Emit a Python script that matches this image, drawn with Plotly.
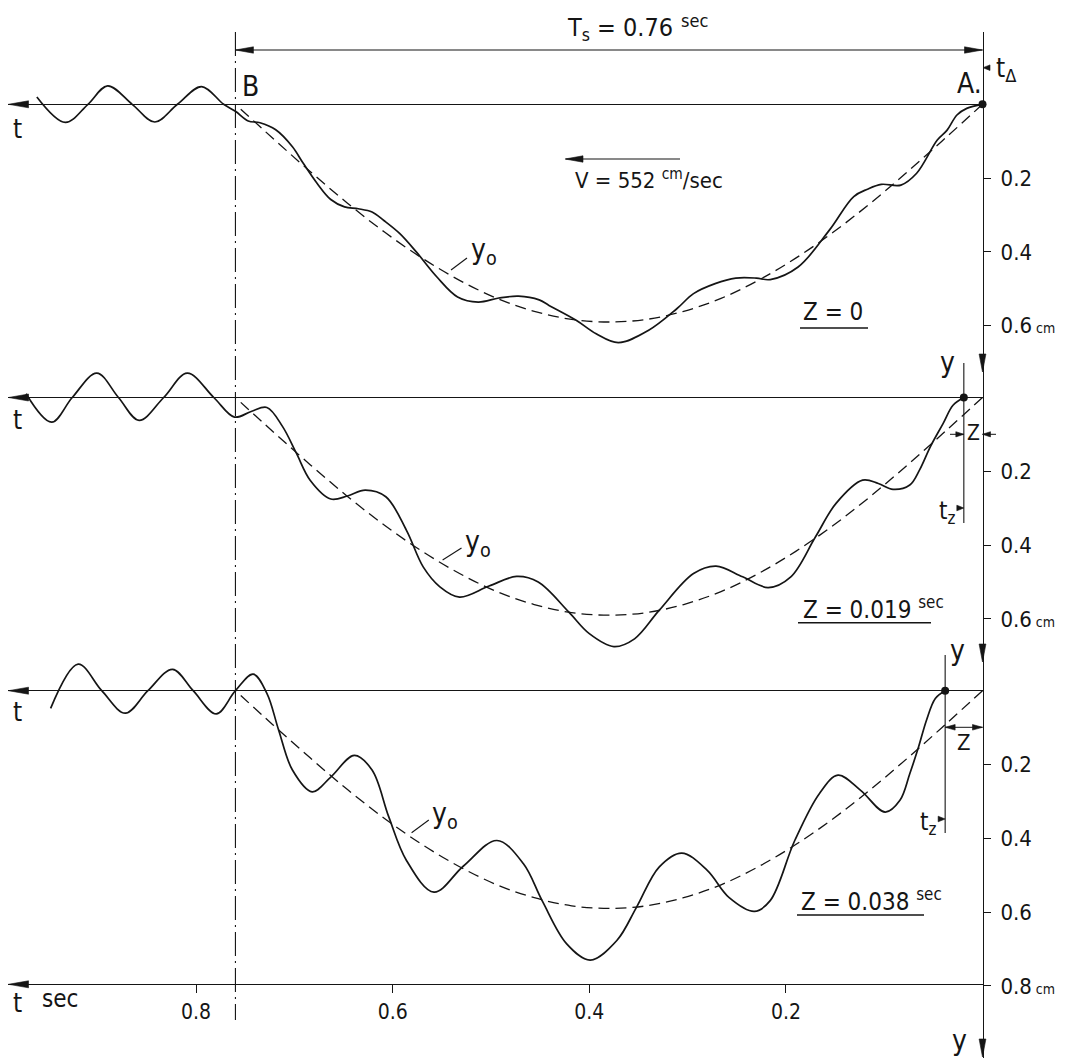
import plotly.graph_objects as go

# ---------------- data ----------------
TS = 0.76                       # sec, time from A to B
V_CM_S = 552                    # cm/sec
Z_VALUES = [0.0, 0.019, 0.038]  # sec
Z_TEXT = ["Z = 0", "Z = 0.019 <sup>sec</sup>", "Z = 0.038 <sup>sec</sup>"]

# static deflection line y0 (cm) vs t (sec)
Y0_T = [0.000, 0.038, 0.076, 0.114, 0.152, 0.190, 0.228, 0.266, 0.304, 0.342, 0.380,
        0.418, 0.456, 0.494, 0.532, 0.570, 0.608, 0.646, 0.684, 0.722, 0.760]
Y0_Y = [0.000, 0.092, 0.182, 0.268, 0.347, 0.417, 0.477, 0.526, 0.561, 0.583, 0.590,
        0.583, 0.561, 0.526, 0.477, 0.417, 0.347, 0.268, 0.182, 0.092, 0.000]

# dynamic deflection y (cm) vs t (sec), Z = 0
SOLID_Z0 = [(0.962, -0.020), (0.933, 0.049), (0.910, 0.000), (0.890, -0.050), (0.865, 0.000),
            (0.842, 0.048), (0.819, 0.000), (0.7945, -0.048), (0.772, 0.000), (0.760, 0.019),
            (0.747, 0.045), (0.735, 0.050), (0.719, 0.069), (0.702, 0.115), (0.691, 0.160),
            (0.677, 0.214), (0.663, 0.258), (0.649, 0.278), (0.635, 0.283), (0.621, 0.292),
            (0.609, 0.315), (0.593, 0.350), (0.576, 0.400), (0.555, 0.468), (0.534, 0.522),
            (0.513, 0.536), (0.492, 0.525), (0.472, 0.520), (0.451, 0.530), (0.441, 0.545),
            (0.413, 0.586), (0.393, 0.622), (0.3705, 0.646), (0.340, 0.613), (0.311, 0.554),
            (0.294, 0.513), (0.272, 0.486), (0.251, 0.471), (0.230, 0.471), (0.216, 0.475),
            (0.1876, 0.441), (0.1558, 0.341), (0.131, 0.250), (0.117, 0.230), (0.103, 0.217),
            (0.083, 0.219), (0.067, 0.187), (0.046, 0.097), (0.036, 0.070), (0.026, 0.029),
            (0.016, 0.011), (0.000, 0.000)]
# Z = 0.019 sec
SOLID_Z19 = [(0.973, -0.010), (0.947, 0.067), (0.926, 0.000), (0.901, -0.066), (0.879, 0.000),
             (0.858, 0.062), (0.833, 0.000), (0.809, -0.066), (0.782, 0.000), (0.761, 0.053),
             (0.744, 0.038), (0.728, 0.027), (0.712, 0.079), (0.698, 0.151), (0.684, 0.224),
             (0.663, 0.275), (0.646, 0.267), (0.628, 0.251), (0.607, 0.269), (0.586, 0.360),
             (0.569, 0.459), (0.552, 0.513), (0.532, 0.541), (0.502, 0.511), (0.474, 0.485),
             (0.452, 0.500), (0.421, 0.581), (0.400, 0.640), (0.375, 0.675), (0.354, 0.654),
             (0.329, 0.577), (0.294, 0.477), (0.271, 0.457), (0.244, 0.486), (0.218, 0.515),
             (0.195, 0.486), (0.170, 0.378), (0.149, 0.287), (0.122, 0.224), (0.106, 0.233),
             (0.091, 0.249), (0.074, 0.237), (0.064, 0.196), (0.053, 0.133), (0.040, 0.070),
             (0.030, 0.021), (0.019, 0.000)]
# Z = 0.038 sec
SOLID_Z38 = [(0.948, 0.048), (0.920, -0.072), (0.896, 0.000), (0.872, 0.061), (0.849, 0.000),
             (0.824, -0.058), (0.803, 0.000), (0.7795, 0.063), (0.760, 0.000), (0.742, -0.045),
             (0.728, 0.007), (0.716, 0.107), (0.702, 0.215), (0.682, 0.274), (0.663, 0.234),
             (0.639, 0.175), (0.621, 0.215), (0.604, 0.342), (0.586, 0.460), (0.558, 0.546),
             (0.528, 0.475), (0.494, 0.406), (0.467, 0.469), (0.448, 0.569), (0.423, 0.686),
             (0.399, 0.730), (0.372, 0.677), (0.352, 0.587), (0.329, 0.478), (0.306, 0.440),
             (0.280, 0.487), (0.258, 0.560), (0.232, 0.598), (0.216, 0.569), (0.191, 0.406),
             (0.166, 0.279), (0.147, 0.229), (0.124, 0.270), (0.099, 0.329), (0.084, 0.297),
             (0.074, 0.225), (0.065, 0.152), (0.057, 0.080), (0.048, 0.021), (0.038, 0.000)]
SOLIDS = [SOLID_Z0, SOLID_Z19, SOLID_Z38]

X_TICKS = [0.2, 0.4, 0.6, 0.8]
X_TICKTEXT = ["0.2", "0.4", "0.6", "0.8"]
CM = "<span style='font-size:14px'> cm</span>"
Y_TICKS_UP = [0.2, 0.4, 0.6]
Y_TICKTEXT_UP = ["0.2", "0.4", "0.6" + CM]
Y_TICKS_LOW = [0.2, 0.4, 0.6, 0.8]
Y_TICKTEXT_LOW = ["0.2", "0.4", "0.6", "0.8" + CM]

# ---------------- geometry / style ----------------
INK = "#151515"
FONT = "Liberation Sans Narrow, DejaVu Sans Condensed, Roboto Condensed, Roboto, sans-serif"
PAGE_W, PAGE_H = 1065, 1061
OFF = 8                          # default body margin of the html page
W, H = PAGE_W - OFF, PAGE_H - OFF
ML, MR = 0, 82                   # plot area spans page x 8 .. 983
PLOT_W = W - ML - MR
T_LEFT, T_RIGHT = 0.99136, -0.0005
DOM_TOP, DOM_BOT = 32, 1058      # page pixels
CM_PX = 369.0
BASE_PX = [104.3, 397.5, 690.7]  # page pixels of y = 0 in each panel
AXIS_Y = 984.3


def X_t(t):
    return OFF + ML + (T_LEFT - t) / (T_LEFT - T_RIGHT) * PLOT_W


def px(X):
    return (X - OFF - ML) / PLOT_W


def py(Y):
    return 1 - (Y - OFF) / H


shapes = []
annotations = []


def seg(X0, Y0, X1, Y1, w=1.2, dash=None):
    shapes.append(dict(type="line", xref="paper", yref="paper", x0=px(X0), y0=py(Y0),
                       x1=px(X1), y1=py(Y1), line=dict(color=INK, width=w, dash=dash)))


def head(X, Y, d, L=18, hw=3.2):
    if d == "left":
        p = [(X, Y), (X + L, Y - hw), (X + L, Y + hw)]
    elif d == "right":
        p = [(X, Y), (X - L, Y - hw), (X - L, Y + hw)]
    else:  # down
        p = [(X, Y), (X - hw, Y - L), (X + hw, Y - L)]
    path = "M " + " L ".join(f"{px(a):.6f},{py(b):.6f}" for a, b in p) + " Z"
    shapes.append(dict(type="path", xref="paper", yref="paper", path=path,
                       fillcolor=INK, line=dict(color=INK, width=0.6)))


def label(X, Y, s, size=24, anchor="left"):
    annotations.append(dict(xref="paper", yref="paper", x=px(X), y=py(Y), text=s,
                            showarrow=False, xanchor=anchor, yanchor="middle",
                            font=dict(family=FONT, size=size, color=INK)))


fig = go.Figure()
yaxes = ["y", "y2", "y3"]
for i in range(3):
    fig.add_trace(go.Scatter(x=Y0_T, y=Y0_Y, mode="lines", yaxis=yaxes[i], hoverinfo="skip",
                             line=dict(color=INK, width=1.3, dash="11px,6px", shape="spline")))
    ts = [p[0] for p in SOLIDS[i]]
    ys = [p[1] for p in SOLIDS[i]]
    fig.add_trace(go.Scatter(x=ts, y=ys, mode="lines", yaxis=yaxes[i], hoverinfo="skip",
                             line=dict(color=INK, width=1.7, shape="spline", smoothing=1.0)))
    fig.add_trace(go.Scatter(x=[Z_VALUES[i]], y=[0], mode="markers", yaxis=yaxes[i],
                             cliponaxis=False, hoverinfo="skip",
                             marker=dict(size=8, color=INK)))

# dash-dot line through B (t = Ts)
b0 = BASE_PX[0]
fig.add_trace(go.Scatter(x=[TS, TS], y=[(DOM_TOP - b0) / CM_PX, (1020 - b0) / CM_PX],
                         mode="lines", yaxis="y", hoverinfo="skip",
                         line=dict(color=INK, width=1.1, dash="24px,5px,2px,5px")))

# Ts dimension line
seg(X_t(TS), 50, X_t(0), 50)
head(X_t(TS), 50, "left")
head(X_t(0), 50, "right")
label(565, 29, "T<sub>s</sub> = 0.76", 25)
label(679, 20, "sec", 18)
label(240, 86, "B", 28)
label(955, 84, "A.", 28)
# t_delta
head(X_t(0) + 0.5, 67.7, "left", L=7, hw=2.8)
label(994, 70, "t<sub>Δ</sub>", 26)

# V arrow
seg(566, 159, 680, 159)
head(565, 159, "left", L=18)
label(573, 179, f"V = {V_CM_S} <sup>cm</sup>/sec", 22)

# baseline arrowheads (left) and bottom axis arrow
for b in BASE_PX + [AXIS_Y]:
    head(8.5, b, "left", L=20, hw=3.5)
# right axis arrows (down)
for Yt in (372, 662, 1057):
    head(X_t(0), Yt, "down", L=18, hw=3.4)

# t labels on the left
for Yc in (129, 420, 712, 1003):
    label(11, Yc, "t", 26)
label(40, 999, "sec", 24)

# y labels on right
label(938, 362, "y", 28)
label(948, 650, "y", 28)
label(950, 1040, "y", 28)

# y0 leaders + labels
for (x0, y0, x1, y1, tx, ty) in [(451, 270, 467, 258, 469, 252),
                                 (442.6, 560, 461.5, 548, 463, 543),
                                 (411.6, 832.7, 428.8, 820, 430, 815)]:
    seg(x0, y0, x1, y1, w=1.1)
    label(tx, ty, "y<sub>o</sub>", 28)

# Z labels with underline
for (txt, lx, ly, ux0, ux1, uy) in zip(Z_TEXT, [801, 801, 799], [312, 608, 900],
                                        [800, 798, 797], [868, 931, 924], [328, 622.7, 915]):
    label(lx, ly, txt, 24)
    seg(ux0, uy, ux1, uy, w=1.4)

# tz vertical lines and labels
for i, (ytop, ybot, yarr) in zip([1, 2], [(363, 523, 508), (655, 833, 819)]):
    xz = X_t(Z_VALUES[i])
    seg(xz, ytop, xz, ybot, w=1.1)
    head(xz, yarr, "right", L=7, hw=2.8)
    label(xz - 27, yarr + 4, "t<sub>z</sub>", 24)

# Z dimension, panel 2
xz2 = X_t(Z_VALUES[1])
seg(950, 434.3, xz2, 434.3, w=1.0)
head(xz2, 434.3, "right", L=8, hw=2.6)
seg(X_t(0), 434.3, 996, 434.3, w=1.0)
head(X_t(0), 434.3, "left", L=8, hw=2.6)
label(965, 433, "Z", 21)
# Z dimension, panel 3
xz3 = X_t(Z_VALUES[2])
seg(xz3, 727.3, X_t(0), 727.3, w=1.0)
head(xz3, 727.3, "left", L=10, hw=2.8)
head(X_t(0), 727.3, "right", L=10, hw=2.8)
label(955, 742, "Z", 22)


def yax(i, tickvals, ticktext, showline):
    b = BASE_PX[i]
    d = dict(domain=[py(DOM_BOT), py(DOM_TOP)],
             range=[(DOM_BOT - b) / CM_PX, (DOM_TOP - b) / CM_PX],
             side="right", anchor="x", showgrid=False,
             zeroline=True, zerolinecolor=INK, zerolinewidth=1.3,
             showline=showline, linecolor=INK, linewidth=1.3,
             ticks="outside", ticklen=7, tickwidth=1.2, tickcolor=INK,
             tickvals=tickvals, ticktext=ticktext, ticklabelstandoff=5,
             tickfont=dict(family=FONT, size=22, color=INK))
    if i > 0:
        d["overlaying"] = "y"
    return d


fig.update_layout(
    width=W, height=H, margin=dict(l=ML, r=MR, t=0, b=0, pad=0),
    paper_bgcolor="white", plot_bgcolor="white", showlegend=False,
    xaxis=dict(range=[T_LEFT, T_RIGHT], anchor="free", position=py(AXIS_Y),
               showgrid=False, zeroline=False, showline=True, linecolor=INK, linewidth=1.3,
               ticks="outside", ticklen=8, tickwidth=1.2, tickcolor=INK,
               tickvals=X_TICKS, ticktext=X_TICKTEXT,
               tickfont=dict(family=FONT, size=21, color=INK)),
    yaxis=yax(0, Y_TICKS_UP, Y_TICKTEXT_UP, True),
    yaxis2=yax(1, Y_TICKS_UP, Y_TICKTEXT_UP, False),
    yaxis3=yax(2, Y_TICKS_LOW, Y_TICKTEXT_LOW, False),
    shapes=shapes, annotations=annotations,
)

fig.write_html("out.html")
